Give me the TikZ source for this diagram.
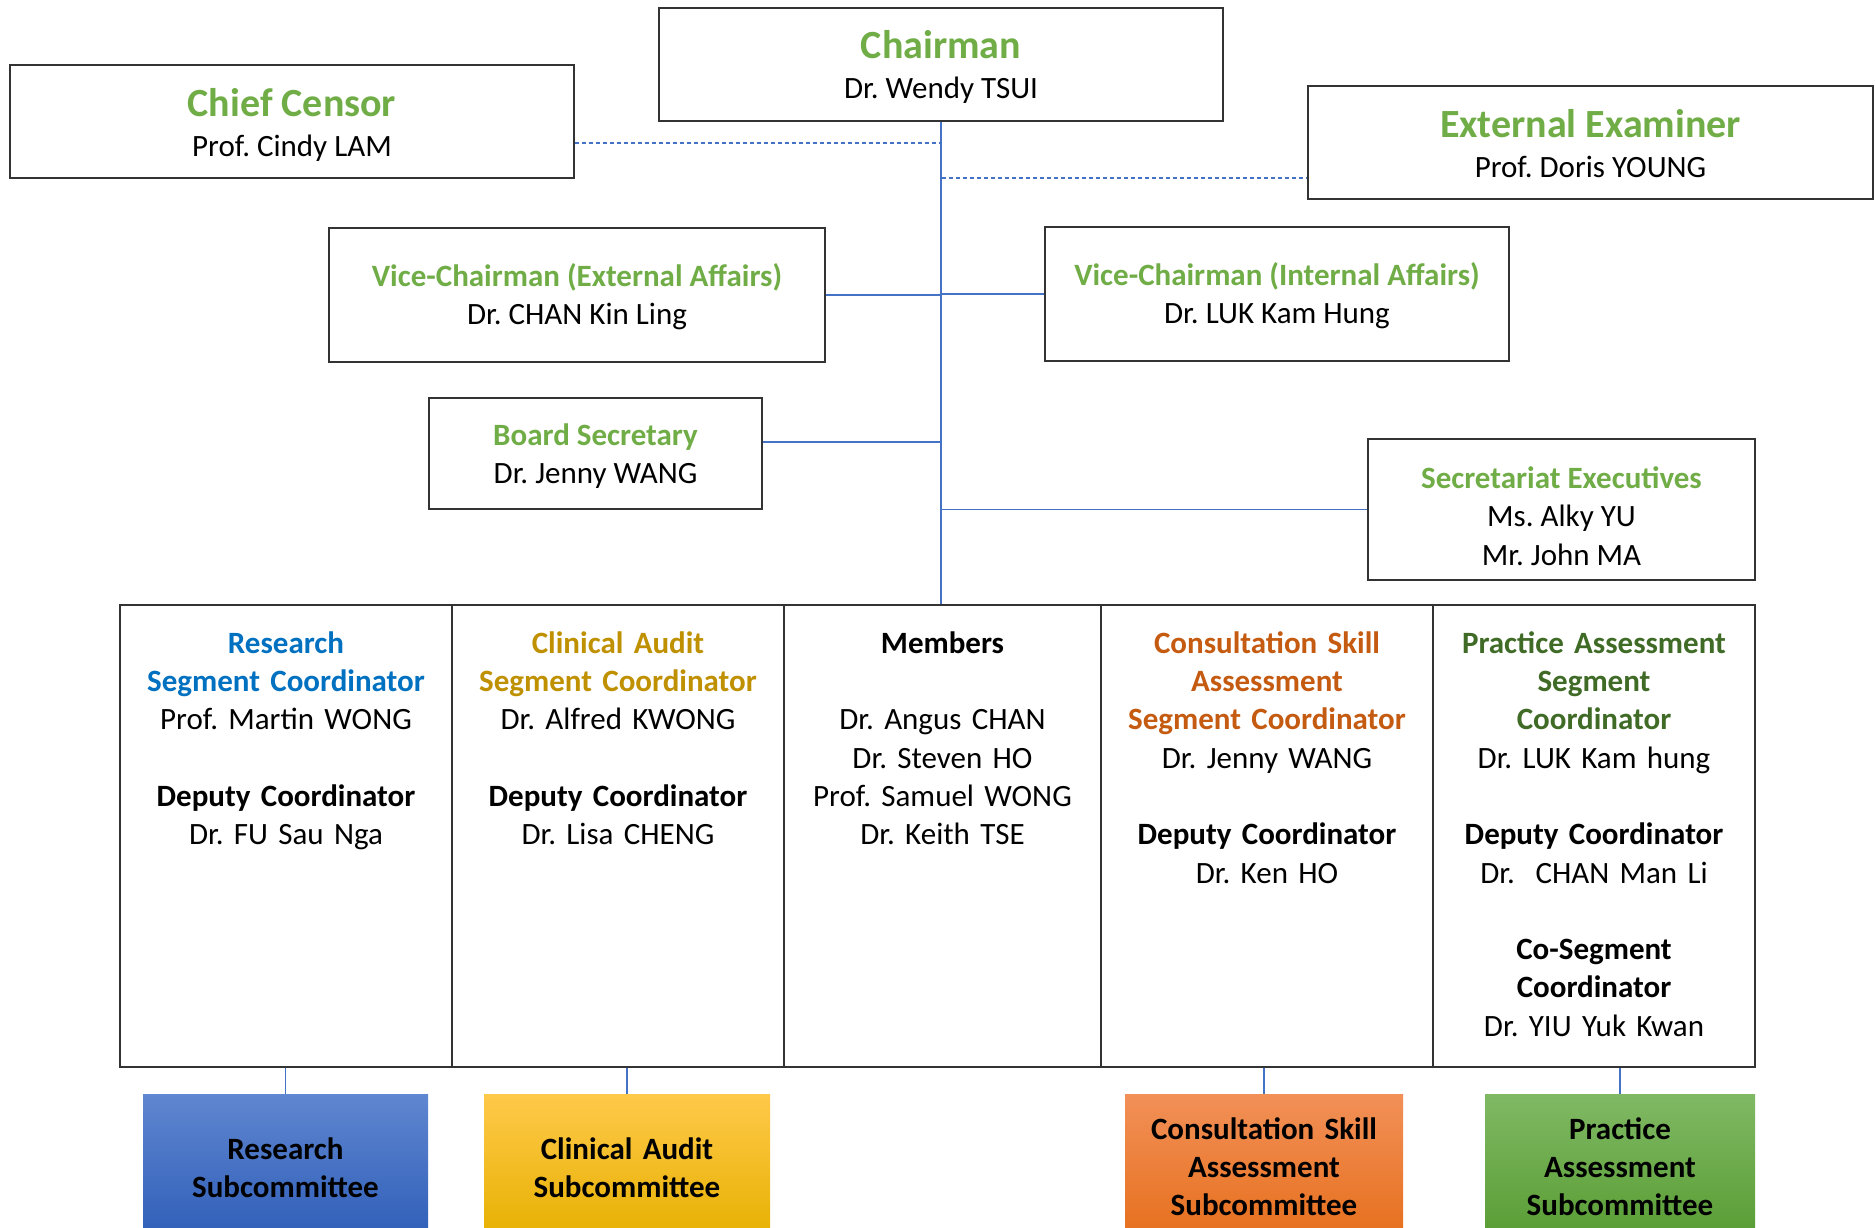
\documentclass[tikz,border=0pt]{standalone}
\usepackage{fontspec}
\setmainfont{Carlito}
\frenchspacing
\usetikzlibrary{calc}
\definecolor{tgreen}{HTML}{70AD47}
\definecolor{rblue}{HTML}{0070C0}
\definecolor{cgold}{HTML}{BF9000}
\definecolor{corange}{HTML}{C55A11}
\definecolor{pgreen}{HTML}{3F6B26}
\definecolor{connc}{HTML}{4472C4}
\definecolor{boxline}{HTML}{333333}
\definecolor{rtop}{HTML}{5F86D0}
\definecolor{rbot}{HTML}{2F5EB8}
\definecolor{ctop}{HTML}{FFC94A}
\definecolor{cbot}{HTML}{E6B000}
\definecolor{otop}{HTML}{F29058}
\definecolor{obot}{HTML}{E66F1C}
\definecolor{gtop}{HTML}{80B964}
\definecolor{gbot}{HTML}{589C33}
\tikzset{
  box/.style={draw=boxline, line width=1.4pt, inner sep=0pt},
  connl/.style={draw=connc, line width=1.3pt},
  dconn/.style={connl, dash pattern=on 4pt off 3pt},
  ttl/.style={font=\fontsize{40}{43}\selectfont\bfseries\frenchspacing, text=tgreen, anchor=base, inner sep=0pt},
  ttls/.style={font=\fontsize{31}{38}\selectfont\bfseries\frenchspacing, text=tgreen, anchor=base, inner sep=0pt},
  nm/.style={font=\fontsize{31}{38}\selectfont\frenchspacing, anchor=base, inner sep=0pt},
  coltext/.style={font=\fontsize{31}{38.27}\selectfont\frenchspacing, anchor=base, inner sep=0pt, align=center, text width=330pt},
  subbox/.style={draw=none, inner sep=0pt},
  subtext/.style={font=\fontsize{31}{38.27}\selectfont\bfseries, anchor=base, inner sep=0pt, align=center, text width=280pt},
}
\begin{document}
\begin{tikzpicture}[x=1pt, y=-1pt]
\useasboundingbox (0,0) rectangle (1875,1227);
\clip (0,0) rectangle (1875,1227);
\fill[white] (0,0) rectangle (1875,1227);

% top boxes
\node[box, minimum width=564pt, minimum height=113pt] (chair) at (941,64.5) {};
\node[ttl] (chairT) at (941,58) {Chairman};
\node[nm] (chairN) at (941,98.5) {Dr. Wendy TSUI};

\node[box, minimum width=564pt, minimum height=113pt] (censor) at (292,121.5) {};
\node[ttl] (censorT) at (292,116) {Chief Censor};
\node[nm] (censorN) at (292,156) {Prof. Cindy LAM};

\node[box, minimum width=565pt, minimum height=113pt] (ext) at (1590.5,142.5) {};
\node[ttl] (extT) at (1590.5,137) {External Examiner};
\node[nm] (extN) at (1590.5,177) {Prof. Doris YOUNG};

\node[box, minimum width=496pt, minimum height=134pt] (vce) at (577,295) {};
\node[ttls] (vceT) at (577,286) {Vice-Chairman (External Affairs)};
\node[nm] (vceN) at (577,324.5) {Dr. CHAN Kin Ling};

\node[box, minimum width=464pt, minimum height=134pt] (vci) at (1277,294) {};
\node[ttls] (vciT) at (1277,285) {Vice-Chairman (Internal Affairs)};
\node[nm] (vciN) at (1277,323) {Dr. LUK Kam Hung};

\node[box, minimum width=333pt, minimum height=111pt] (bsec) at (595.5,453.5) {};
\node[ttls] (bsecT) at (595.5,445) {Board Secretary};
\node[nm] (bsecN) at (595.5,483.5) {Dr. Jenny WANG};

\node[box, minimum width=387pt, minimum height=141pt] (sexe) at (1561.5,509.5) {};
\node[ttls] (sexeT) at (1561.5,488) {Secretariat Executives};
\node[nm] (sexeN1) at (1561.5,526.6) {Ms. Alky YU};
\node[nm] (sexeN2) at (1561.5,565) {Mr. John MA};

% bottom columns
\node[box, minimum width=332pt, minimum height=462pt] (c1) at (286,836) {};
\node[box, minimum width=332pt, minimum height=462pt] (c2) at (618,836) {};
\node[box, minimum width=317pt, minimum height=462pt] (c3) at (942.5,836) {};
\node[box, minimum width=332pt, minimum height=462pt] (c4) at (1267,836) {};
\node[box, minimum width=322pt, minimum height=462pt] (c5) at (1594,836) {};

\node[coltext] (t1) at (286,653.4) {\textcolor{rblue}{\textbf{Research}}\\\textcolor{rblue}{\textbf{Segment Coordinator}}\\Prof. Martin WONG\\[38.27pt]\textbf{Deputy Coordinator}\\Dr. FU Sau Nga};
\node[coltext] (t2) at (618,653.4) {\textcolor{cgold}{\textbf{Clinical Audit}}\\\textcolor{cgold}{\textbf{Segment Coordinator}}\\Dr. Alfred KWONG\\[38.27pt]\textbf{Deputy Coordinator}\\Dr. Lisa CHENG};
\node[coltext] (t3) at (942.5,653.4) {\textbf{Members}\\[38.27pt]Dr. Angus CHAN\\Dr. Steven HO\\Prof. Samuel WONG\\Dr. Keith TSE};
\node[coltext] (t4) at (1267,653.4) {\textcolor{corange}{\textbf{Consultation Skill}}\\\textcolor{corange}{\textbf{Assessment}}\\\textcolor{corange}{\textbf{Segment Coordinator}}\\Dr. Jenny WANG\\[38.27pt]\textbf{Deputy Coordinator}\\Dr. Ken HO};
\node[coltext] (t5) at (1594,653.4) {\textcolor{pgreen}{\textbf{Practice Assessment}}\\\textcolor{pgreen}{\textbf{Segment}}\\\textcolor{pgreen}{\textbf{Coordinator}}\\Dr. LUK Kam hung\\[38.27pt]\textbf{Deputy Coordinator}\\Dr.\ \ CHAN Man Li\\[38.27pt]\textbf{Co-Segment}\\\textbf{Coordinator}\\Dr. YIU Yuk Kwan};

% subcommittees
\node[subbox, top color=rtop, bottom color=rbot, minimum width=285pt, minimum height=146pt] (s1) at (285.5,1167) {};
\node[subbox, top color=ctop, bottom color=cbot, minimum width=286pt, minimum height=146pt] (s2) at (627,1167) {};
\node[subbox, top color=otop, bottom color=obot, minimum width=278pt, minimum height=146pt] (s3) at (1264,1167) {};
\node[subbox, top color=gtop, bottom color=gbot, minimum width=270pt, minimum height=146pt] (s4) at (1620,1167) {};
\node[subtext] (s1t) at (285.5,1159) {Research\\Subcommittee};
\node[subtext] (s2t) at (627,1159) {Clinical Audit\\Subcommittee};
\node[subtext] (s3t) at (1264,1139) {Consultation Skill\\Assessment\\Subcommittee};
\node[subtext] (s4t) at (1620,1139) {Practice\\Assessment\\Subcommittee};

% connectors
\coordinate (jcen) at (942,143);
\coordinate (jext) at (942,178);
\coordinate (jbs) at (942,442);
\draw[connl] (chair.south) -- (chair.south |- c3.north);
\draw[dconn] (censor.east |- jcen) -- (jcen);
\draw[dconn] (jext) -- (ext.west |- jext);
\draw[connl] (vce.east) -- (vce.east -| chair.south);
\draw[connl] (vci.west) -- (vci.west -| chair.south);
\draw[connl] (bsec.east |- jbs) -- (jbs);
\draw[connl] (sexe.west) -- (sexe.west -| chair.south);
\draw[connl] (s1.north |- c1.south) -- (s1.north);
\draw[connl] (s2.north |- c2.south) -- (s2.north);
\draw[connl] (s3.north |- c4.south) -- (s3.north);
\draw[connl] (s4.north |- c5.south) -- (s4.north);
\end{tikzpicture}
\end{document}
